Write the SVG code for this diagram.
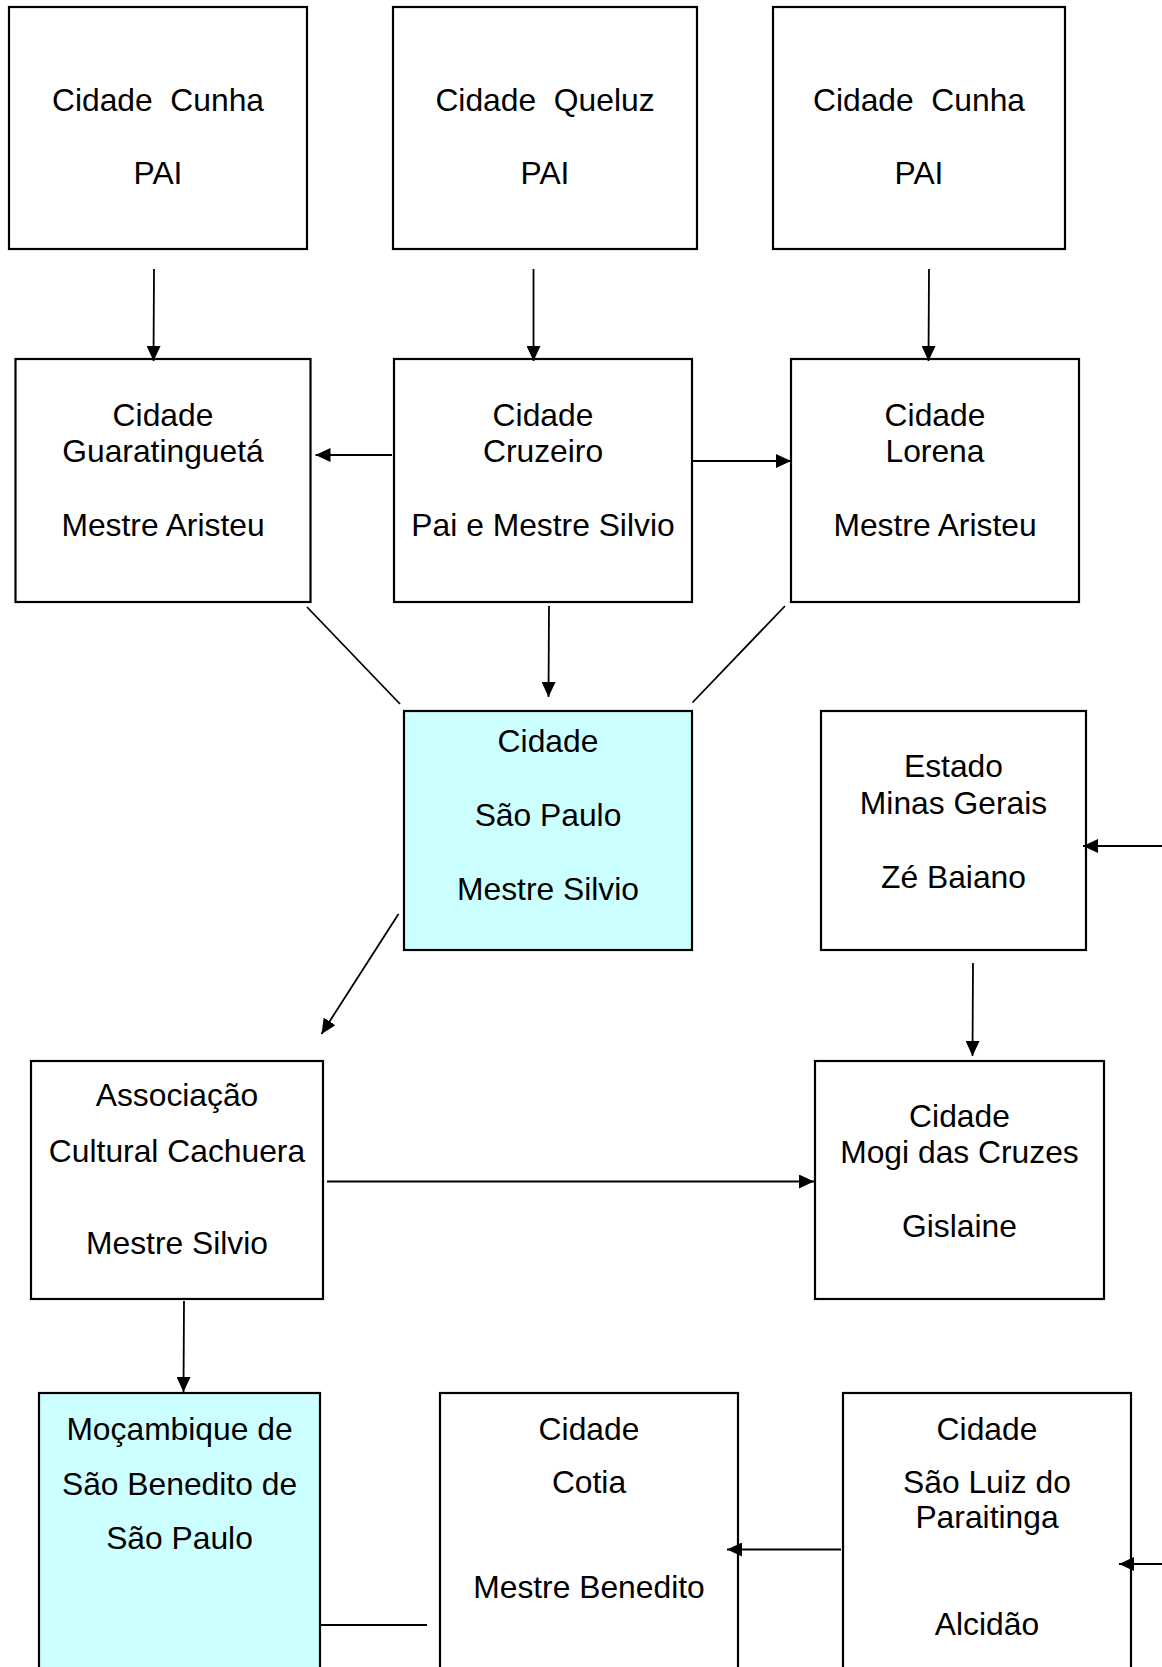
<svg xmlns="http://www.w3.org/2000/svg" width="1162" height="1667" viewBox="0 0 1162 1667">
<style>
.box{fill:#ffffff;stroke:#000000;stroke-width:2.2}
.hl{fill:#ccffff;stroke:#000000;stroke-width:2.2}
.t{font-family:"Liberation Sans",Arial,sans-serif;font-size:31.8px;fill:#000000;text-anchor:middle}
.c{stroke:#000000;stroke-width:1.8;fill:none}
.a{marker-end:url(#arr)}
</style>
<defs>
<marker id="arr" viewBox="0 0 15 14" refX="15" refY="7" markerWidth="15" markerHeight="14" markerUnits="userSpaceOnUse" orient="auto">
<path d="M0,0 L15,7 L0,14 z" fill="#000000"/>
</marker>
</defs>
<rect width="1162" height="1667" fill="#ffffff"/>
<g id="n1"><rect class="box" x="9" y="7" width="298" height="242"/><text class="t" x="158" y="111" xml:space="preserve">Cidade  Cunha</text><text class="t" x="158" y="184">PAI</text></g>
<g id="n2"><rect class="box" x="393" y="7" width="304" height="242"/><text class="t" x="545" y="111" xml:space="preserve">Cidade  Queluz</text><text class="t" x="545" y="184">PAI</text></g>
<g id="n3"><rect class="box" x="773" y="7" width="292" height="242"/><text class="t" x="919" y="111" xml:space="preserve">Cidade  Cunha</text><text class="t" x="919" y="184">PAI</text></g>
<g id="n4"><rect class="box" x="15.5" y="359" width="295" height="243"/><text class="t" x="163" y="426">Cidade</text><text class="t" x="163" y="462">Guaratinguetá</text><text class="t" x="163" y="536">Mestre Aristeu</text></g>
<g id="n5"><rect class="box" x="394" y="359" width="298" height="243"/><text class="t" x="543" y="426">Cidade</text><text class="t" x="543" y="462">Cruzeiro</text><text class="t" x="543" y="536">Pai e Mestre Silvio</text></g>
<g id="n6"><rect class="box" x="791" y="359" width="288" height="243"/><text class="t" x="935" y="426">Cidade</text><text class="t" x="935" y="462">Lorena</text><text class="t" x="935" y="536">Mestre Aristeu</text></g>
<g id="n7"><rect class="hl" x="404" y="711" width="288" height="239"/><text class="t" x="548" y="752">Cidade</text><text class="t" x="548" y="826">São Paulo</text><text class="t" x="548" y="900">Mestre Silvio</text></g>
<g id="n8"><rect class="box" x="821" y="711" width="265" height="239"/><text class="t" x="953.5" y="777">Estado</text><text class="t" x="953.5" y="814">Minas Gerais</text><text class="t" x="953.5" y="888">Zé Baiano</text></g>
<g id="n9"><rect class="box" x="31" y="1061" width="292" height="238"/><text class="t" x="177" y="1106">Associação</text><text class="t" x="177" y="1162">Cultural Cachuera</text><text class="t" x="177" y="1254">Mestre Silvio</text></g>
<g id="n10"><rect class="box" x="815" y="1061" width="289" height="238"/><text class="t" x="959.5" y="1127">Cidade</text><text class="t" x="959.5" y="1163">Mogi das Cruzes</text><text class="t" x="959.5" y="1237">Gislaine</text></g>
<g id="n11"><rect class="hl" x="39" y="1393" width="281" height="300"/><text class="t" x="179.5" y="1440">Moçambique de</text><text class="t" x="179.5" y="1495">São Benedito de</text><text class="t" x="179.5" y="1549">São Paulo</text></g>
<g id="n12"><rect class="box" x="440" y="1393" width="298" height="300"/><text class="t" x="589" y="1440">Cidade</text><text class="t" x="589" y="1493">Cotia</text><text class="t" x="589" y="1598">Mestre Benedito</text></g>
<g id="n13"><rect class="box" x="843" y="1393" width="288" height="300"/><text class="t" x="987" y="1440">Cidade</text><text class="t" x="987" y="1493">São Luiz do</text><text class="t" x="987" y="1528">Paraitinga</text><text class="t" x="987" y="1635">Alcidão</text></g>
<g id="connectors">
<line class="c a" x1="154" y1="269" x2="153.5" y2="361"/>
<line class="c a" x1="533.5" y1="269" x2="533.5" y2="361"/>
<line class="c a" x1="929" y1="269" x2="928.5" y2="361"/>
<line class="c a" x1="392" y1="455" x2="315.5" y2="455"/>
<line class="c a" x1="692" y1="461" x2="791" y2="461"/>
<line class="c" x1="307" y1="607" x2="400" y2="704"/>
<line class="c a" x1="549" y1="606" x2="548.5" y2="697"/>
<line class="c" x1="785" y1="606" x2="692.5" y2="702.5"/>
<line class="c a" x1="1162" y1="846" x2="1083" y2="846"/>
<line class="c a" x1="398.5" y1="914" x2="321.5" y2="1034"/>
<line class="c a" x1="327" y1="1181.5" x2="814" y2="1181.5"/>
<line class="c a" x1="973" y1="963" x2="972.5" y2="1056"/>
<line class="c a" x1="184" y1="1301" x2="183.5" y2="1392"/>
<line class="c" x1="320" y1="1625" x2="427" y2="1625"/>
<line class="c a" x1="841" y1="1549.5" x2="727" y2="1549.5"/>
<line class="c a" x1="1162" y1="1564" x2="1119" y2="1564"/>
</g>
</svg>
